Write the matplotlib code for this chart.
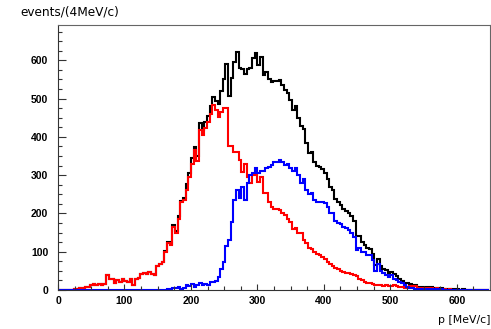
import numpy as np
import matplotlib
matplotlib.use("Agg")
import matplotlib.pyplot as plt
from matplotlib.ticker import MultipleLocator

# ---- data: counts per 4 MeV/c bin, starting at p = 0 ----
bin_width = 4
red = [
    0, 0, 0, 0, 0, 1, 2, 3, 5, 4,
    8, 9, 14, 16, 13, 16, 14, 16, 38, 30,
    28, 18, 26, 22, 28, 24, 20, 28, 14, 28,
    32, 42, 44, 42, 48, 42, 40, 62, 68, 72,
    100, 122, 118, 165, 150, 185, 230, 235, 262, 295,
    330, 365, 338, 418, 405, 423, 440, 460, 483, 470,
    453, 465, 476, 476, 376, 376, 360, 360, 339, 309,
    329, 296, 279, 300, 300, 282, 296, 252, 252, 230,
    218, 211, 211, 208, 202, 196, 186, 177, 160, 162,
    149, 148, 131, 122, 109, 108, 100, 95, 92, 86,
    80, 74, 68, 62, 58, 55, 50, 47, 45, 44,
    42, 40, 36, 30, 25, 20, 18, 17, 16, 14,
    12, 12, 10, 12, 10, 10, 12, 10, 8, 7,
    5, 9, 10, 8, 10, 5, 6, 5, 6, 4,
    5, 3, 4, 3, 2, 2, 1, 2, 1, 1,
    1, 0, 1, 0, 0, 0, 0, 0, 0, 0,
    0, 0,
]
blue = [
    0, 0, 0, 0, 0, 0, 0, 0, 0, 0,
    0, 0, 0, 0, 0, 0, 0, 0, 0, 0,
    0, 0, 0, 0, 0, 0, 0, 0, 0, 0,
    0, 0, 0, 0, 0, 0, 0, 0, 0, 0,
    1, 3, 2, 6, 4, 8, 3, 6, 14, 10,
    16, 8, 12, 17, 13, 16, 14, 20, 22, 24,
    33, 54, 74, 115, 130, 177, 236, 262, 240, 268,
    236, 280, 300, 305, 318, 305, 312, 310, 318, 320,
    326, 334, 334, 340, 334, 326, 328, 318, 310, 318,
    300, 280, 290, 262, 250, 252, 235, 230, 230, 230,
    226, 217, 200, 200, 180, 174, 172, 165, 162, 156,
    150, 139, 104, 110, 100, 98, 92, 91, 78, 50,
    68, 50, 44, 39, 35, 38, 30, 26, 22, 17,
    13, 9, 6, 4, 3, 3, 2, 3, 2, 2,
    2, 2, 1, 2, 2, 1, 1, 1, 1, 1,
    1, 0, 1, 0, 0, 0, 0, 0, 0, 0,
    0, 0,
]
# total histogram = sum of the two components
total = [r + b for r, b in zip(red, blue)]

x_label = "p [MeV/c]"
y_label = "events/(4MeV/c)"

# ---- figure ----
fig = plt.figure(figsize=(4.91, 3.29), dpi=100)
ax = fig.add_axes([58 / 491, 1 - 290 / 329, 432 / 491, 265 / 329])

edges = np.arange(len(total) + 1) * bin_width
lw = 1.5
ax.stairs(total, edges, color="black", lw=lw, baseline=0)
ax.stairs(red, edges, color="#ff0000", lw=lw, baseline=0)
ax.stairs(blue, edges, color="#0000ff", lw=lw, baseline=0)

ax.set_xlim(0, 650)
ax.set_ylim(0, 692)

ax.xaxis.set_major_locator(MultipleLocator(100))
ax.xaxis.set_minor_locator(MultipleLocator(25))
ax.yaxis.set_major_locator(MultipleLocator(100))
ax.yaxis.set_minor_locator(MultipleLocator(25))

ax.tick_params(axis="both", which="both", direction="in", colors="#333333",
               width=0.8)
ax.tick_params(axis="y", which="major", length=5.5, pad=7)
ax.tick_params(axis="y", which="minor", length=3)
ax.tick_params(axis="x", which="major", length=4.5, pad=4)
ax.tick_params(axis="x", which="minor", length=2.8)
ax.tick_params(top=False, right=False)

for lab in ax.get_xticklabels() + ax.get_yticklabels():
    lab.set_fontfamily("Liberation Sans")
    lab.set_fontweight("bold")
    lab.set_fontsize(7.5)
    lab.set_color("black")

for side in ["left", "bottom"]:
    ax.spines[side].set_color("#333333")
    ax.spines[side].set_linewidth(0.8)
for side in ["top", "right"]:
    ax.spines[side].set_color("#666666")
    ax.spines[side].set_linewidth(0.8)

fig.text(20 / 491, 1 - 12 / 329, y_label, fontsize=8.7, family="DejaVu Sans",
         ha="left", va="center")
fig.text(490 / 491, 1 - 320 / 329, x_label, fontsize=7.8, family="DejaVu Sans",
         ha="right", va="center")

fig.savefig("out.png", dpi=100)
